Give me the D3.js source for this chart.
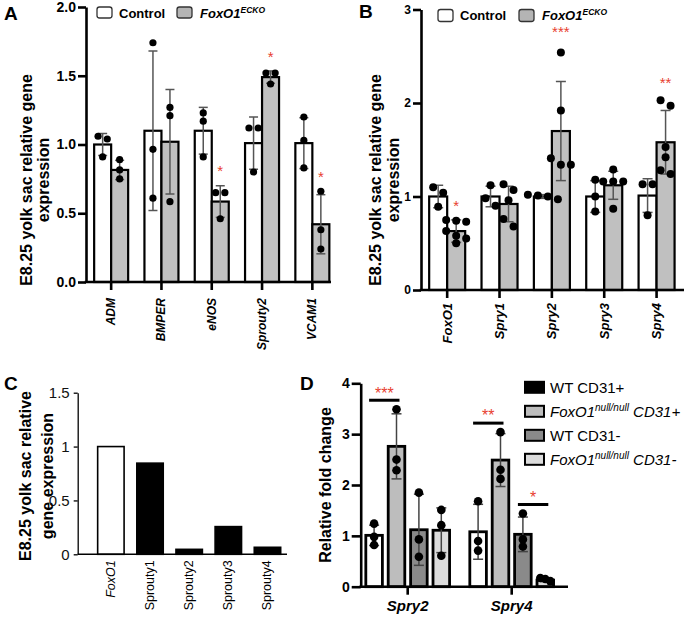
<!DOCTYPE html>
<html><head><meta charset="utf-8">
<script src="https://cdn.jsdelivr.net/npm/d3@7"></script>
<style>body{margin:0;background:#fff} svg{display:block;font-family:"Liberation Sans",Arial,sans-serif}</style>
</head><body><svg id="c" width="686" height="618"></svg>
<script>
// ---------- Panel A data ----------
const catsA = ["ADM","BMPER","eNOS","Sprouty2","VCAM1"];
const ctrlA = [1.00,1.10,1.10,1.01,1.01];
const ctrlSdA = [0.08,0.58,0.17,0.19,0.185];
const ctrlDotsA = [[1.04,1.06,0.91],[1.74,0.965,0.61],[1.23,1.17,0.91],[1.12,1.12,0.80],[1.20,1.03,0.83]];
const koA = [0.815,1.02,0.585,1.49,0.42];
const koSdA = [0.07,0.38,0.115,0.045,0.215];
const koDotsA = [[0.89,0.815,0.75],[1.27,1.21,0.584],[0.65,0.65,0.46],[1.52,1.52,1.44],[0.66,0.38,0.24]];
const starsA = ["","","*","*","*"];
const ticksA = [0,0.5,1,1.5,2];

// ---------- Panel B data ----------
const catsB = ["FoxO1","Spry1","Spry2","Spry3","Spry4"];
const ctrlB = [1.0,1.0,1.0,1.0,1.01];
const ctrlSdB = [0.12,0.11,0.02,0.17,0.18];
const ctrlDotsB = [[1.10,1.04,0.89],[1.12,0.98,0.90],[0.97,1.00,1.01,1.02],[1.18,1.00,0.84],[1.13,1.13,0.80]];
const koB = [0.63,0.92,1.70,1.12,1.58];
const koSdB = [0.12,0.19,0.53,0.15,0.34];
const koDotsB = [[0.75,0.74,0.73,0.63,0.58,0.55,0.50],[1.13,1.07,0.96,0.76,0.68],[2.54,1.92,1.41,1.34,1.34],[1.29,1.16,1.16,1.16,0.87],[2.03,1.97,1.53,1.42,1.28,1.24]];
const starsB = ["*","","***","","**"];
const ticksB = [0,1,2,3];

// ---------- Panel C data ----------
const catsC = ["FoxO1","Sprouty1","Sprouty2","Sprouty3","Sprouty4"];
const valuesC = [1.0,0.846,0.046,0.257,0.065];
const ticksC = [0,0.5,1,1.5];

// ---------- Panel D data ----------
const groupsD = ["Spry2","Spry4"];
const seriesD = ["WT CD31+","FoxO1 null/null CD31+","WT CD31-","FoxO1 null/null CD31-"];
const meansD = [[1.01,1.08],[2.76,2.49],[1.12,1.03],[1.11,0.13]];
const sdD = [[0.20,0.54],[0.64,0.52],[0.70,0.34],[0.44,0.03]];
const dotsD = [
  [[1.24,0.98,0.82],[1.68,0.90,0.71]],
  [[3.49,2.50,2.29],[3.04,2.30,2.12]],
  [[1.85,0.93,0.59],[1.44,0.93,0.79]],
  [[1.51,1.21,0.61],[0.17,0.15,0.11]]
];
const sigD = [{g:0,a:0,b:1,label:"***"},{g:1,a:0,b:1,label:"**"},{g:1,a:2,b:3,label:"*"}];
const ticksD = [0,1,2,3,4];

// ---------- helpers ----------
const svg = d3.select("#c");
svg.append("rect").attr("width",686).attr("height",618).attr("fill","#fff");
const RED = "#e8402f";

function rowOffsets(vals, y, thr, sp){
  // group dots lying on nearly the same height into rows, centre each row
  const idx = vals.map((v,i)=>i).sort((a,b)=>vals[b]-vals[a]);
  const off = new Array(vals.length).fill(0);
  let row = [];
  const flush = () => { const k=row.length; row.forEach((id,j)=>off[id]=(j-(k-1)/2)*sp); row=[]; };
  idx.forEach(id=>{
    if(row.length && Math.abs(y(vals[row[0]])-y(vals[id]))>=thr) flush();
    row.push(id);
  });
  flush();
  return off;
}

function errBar(g, cx, y, m, sd, cap, color, w){
  const t=y(m+sd), b=y(Math.max(0,m-sd));
  g.append("line").attr("x1",cx).attr("x2",cx).attr("y1",t).attr("y2",b).attr("stroke",color).attr("stroke-width",w);
  g.append("line").attr("x1",cx-cap/2).attr("x2",cx+cap/2).attr("y1",t).attr("y2",t).attr("stroke",color).attr("stroke-width",w);
  g.append("line").attr("x1",cx-cap/2).attr("x2",cx+cap/2).attr("y1",b).attr("y2",b).attr("stroke",color).attr("stroke-width",w);
}

function dots(g, cx, y, vals, r, thr, sp){
  const off = rowOffsets(vals, y, thr===undefined?2*r:thr, sp===undefined?2*r+2:sp);
  vals.forEach((v,i)=>g.append("circle").attr("cx",cx+off[i]).attr("cy",y(v)).attr("r",r).attr("fill","#000"));
}

function starText(g, x, yc, label, fs){
  g.append("text").attr("x",x).attr("y",yc+0.58*fs).attr("text-anchor","middle")
    .attr("font-size",fs).attr("fill",RED).text(label);
}

function yTitle(g, x, yc, text, fs){
  g.append("text").attr("transform",`translate(${x},${yc}) rotate(-90)`).attr("text-anchor","middle")
    .attr("dominant-baseline","central").attr("font-size",fs).attr("font-weight","bold").text(text);
}

function letter(x,y,t){
  svg.append("text").attr("x",x).attr("y",y).attr("font-size",19).attr("font-weight","bold").text(t);
}

function pairedPanel(o){
  const g = svg.append("g");
  const x = d3.scaleBand().domain(o.cats).range([o.left, o.left+o.step*o.cats.length]);
  const y = d3.scaleLinear().domain([0,o.yMax]).range([o.y0,o.yTop]);
  o.cats.forEach((c,i)=>{
    const cx = x(c)+x.bandwidth()/2;
    g.append("rect").attr("x",cx-o.barW).attr("y",y(o.ctrl[i])).attr("width",o.barW).attr("height",o.y0-y(o.ctrl[i]))
      .attr("fill","#fff").attr("stroke","#000").attr("stroke-width",2.2);
    g.append("rect").attr("x",cx).attr("y",y(o.ko[i])).attr("width",o.barW).attr("height",o.y0-y(o.ko[i]))
      .attr("fill","#c0c0c0").attr("stroke","#000").attr("stroke-width",2.2);
    errBar(g, cx-o.barW/2, y, o.ctrl[i], o.ctrlSd[i], o.cap, "#555", 1.5);
    errBar(g, cx+o.barW/2, y, o.ko[i], o.koSd[i], o.cap, "#555", 1.5);
    dots(g, cx-o.barW/2, y, o.ctrlDots[i], o.r);
    dots(g, cx+o.barW/2, y, o.koDots[i], o.r);
    if(o.stars[i]){
      const top = Math.max(o.ko[i]+o.koSd[i], d3.max(o.koDots[i]));
      starText(g, cx+o.barW/2, y(top)-15-3*o.stars[i].length, o.stars[i], 15);
    }
    // x label
    g.append("text").attr("transform",`translate(${cx},${o.y0+o.labTop}) rotate(-90)`)
      .attr("text-anchor","end").attr("dominant-baseline","central")
      .attr("font-size",o.labFs).attr("font-weight","bold").attr("font-style","italic").text(c);
  });
  // axes
  const ay = g.append("g").attr("transform",`translate(${o.left},0)`)
    .call(d3.axisLeft(y).tickValues(o.ticks).tickFormat(o.fmt).tickSize(8).tickPadding(2).tickSizeOuter(0));
  ay.select(".domain").attr("stroke-width",2.6);
  ay.selectAll(".tick line").attr("stroke-width",2.6);
  ay.selectAll(".tick text").attr("font-size",o.tickFs).attr("font-weight","bold").attr("fill","#000").attr("font-family",null);
  const ax = g.append("g").attr("transform",`translate(0,${o.y0})`)
    .call(d3.axisBottom(x).tickSize(8).tickFormat(""));
  ax.select(".domain").remove();
  ax.selectAll(".tick line").attr("stroke-width",2.6);
  g.append("line").attr("x1",o.left-1.3).attr("x2",o.axEnd).attr("y1",o.y0).attr("y2",o.y0).attr("stroke","#000").attr("stroke-width",2.6);
  // title
  yTitle(g, o.titleX1, o.titleY, "E8.25 yolk sac relative gene", 16);
  yTitle(g, o.titleX2, o.titleY, "expression", 16);
  // legend
  const L=o.leg;
  g.append("rect").attr("x",L.x1).attr("y",L.y).attr("width",15).attr("height",L.h).attr("rx",2.5)
    .attr("fill","#fff").attr("stroke","#333").attr("stroke-width",1.3);
  g.append("text").attr("x",L.x1+22).attr("y",L.base).attr("font-size",13).attr("font-weight","bold").text("Control");
  g.append("rect").attr("x",L.x2).attr("y",L.y).attr("width",15).attr("height",L.h).attr("rx",2.5)
    .attr("fill","#b4b4b4").attr("stroke","#333").attr("stroke-width",1.3);
  const t = g.append("text").attr("x",L.x2+23).attr("y",L.base).attr("font-size",13).attr("font-weight","bold").attr("font-style","italic");
  t.append("tspan").text("FoxO1");
  t.append("tspan").attr("dy",-5).attr("font-size",8.5).text("ECKO");
}

// ---------- Panel A ----------
letter(4,20,"A");
pairedPanel({cats:catsA, ctrl:ctrlA, ctrlSd:ctrlSdA, ctrlDots:ctrlDotsA, ko:koA, koSd:koSdA, koDots:koDotsA, stars:starsA,
  left:86, step:50.3, y0:282, yTop:7, yMax:2, ticks:ticksA, fmt:d3.format(".1f"), tickFs:14,
  barW:17, r:3.6, cap:9, axEnd:331, labTop:16, labFs:12,
  titleX1:26, titleX2:43, titleY:180, leg:{x1:97,x2:177,y:7,h:11,base:17.5}});

// ---------- Panel B ----------
letter(359,18,"B");
pairedPanel({cats:catsB, ctrl:ctrlB, ctrlSd:ctrlSdB, ctrlDots:ctrlDotsB, ko:koB, koSd:koSdB, koDots:koDotsB, stars:starsB,
  left:421, step:52.35, y0:290, yTop:9.5, yMax:3, ticks:ticksB, fmt:d3.format("d"), tickFs:12,
  barW:18, r:4, cap:10, axEnd:684, labTop:13, labFs:13,
  titleX1:375, titleX2:393, titleY:180, leg:{x1:438,x2:519,y:9.5,h:12,base:19.5}});

// ---------- Panel C ----------
letter(4,390,"C");
(function(){
  const g = svg.append("g");
  const left=77.7, y0=554.3;
  const x = d3.scaleBand().domain(catsC).range([91.3, 91.3+5*39.15]).paddingInner(0.325).paddingOuter(0.1625);
  const y = d3.scaleLinear().domain([0,1.5]).range([y0,392.7]);
  catsC.forEach((c,i)=>{
    g.append("rect").attr("x",x(c)).attr("y",y(valuesC[i])).attr("width",x.bandwidth()).attr("height",y0-y(valuesC[i]))
      .attr("fill", i===0 ? "#fff" : "#000").attr("stroke","#000").attr("stroke-width",1.6);
    g.append("text").attr("transform",`translate(${x(c)+x.bandwidth()/2},${y0+6}) rotate(-90)`)
      .attr("text-anchor","end").attr("dominant-baseline","central")
      .attr("font-size",12.5).attr("font-style", i===0 ? "italic" : "normal").text(c);
  });
  const ay = g.append("g").attr("transform",`translate(${left},0)`)
    .call(d3.axisLeft(y).tickValues(ticksC).tickFormat(d3.format("")).tickSize(4).tickPadding(4).tickSizeOuter(0));
  ay.select(".domain").attr("stroke-width",1.3);
  ay.selectAll(".tick line").attr("stroke-width",1.3);
  ay.selectAll(".tick text").attr("font-size",15).attr("fill","#111").attr("font-family",null);
  g.append("line").attr("x1",left).attr("x2",287).attr("y1",y0).attr("y2",y0).attr("stroke","#000").attr("stroke-width",1.5);
  yTitle(g, 25, 476, "E8.25 yolk sac relative", 16);
  yTitle(g, 47, 476, "gene expression", 16);
})();

// ---------- Panel D ----------
letter(300,390,"D");
(function(){
  const g = svg.append("g");
  const left=360.7, y0=586.7;
  const x0 = d3.scaleBand().domain(groupsD).range([355.7, 563.7]);
  const xs = d3.scaleBand().domain(seriesD).range([-44.8,44.8]).paddingInner(0.26).paddingOuter(0.13);
  const y = d3.scaleLinear().domain([0,4]).range([y0,383.3]);
  const barFill = ["#fff","#bdbdbd","#8a8a8a","#dcdcdc"];
  const legFill = ["#000","#bdbdbd","#8a8a8a","#dcdcdc"];
  const cxOf = (gi,si) => x0(groupsD[gi]) + x0.bandwidth()/2 + xs(seriesD[si]) + xs.bandwidth()/2;
  groupsD.forEach((gn,gi)=>{
    seriesD.forEach((sn,si)=>{
      const m = meansD[si][gi];
      const bx = x0(gn)+x0.bandwidth()/2+xs(sn);
      g.append("rect").attr("x",bx).attr("y",y(m)).attr("width",xs.bandwidth()).attr("height",y0-y(m))
        .attr("fill",barFill[si]).attr("stroke","#000").attr("stroke-width",2.8);
    });
    seriesD.forEach((sn,si)=>{
      errBar(g, cxOf(gi,si), y, meansD[si][gi], sdD[si][gi], 10, "#444", 1.5);
      dots(g, cxOf(gi,si), y, dotsD[si][gi], 4.3, 4, 5);
    });
  });
  sigD.forEach(s=>{
    const top = d3.max([s.a,s.b].flatMap(si=>[meansD[si][s.g]+sdD[si][s.g], ...dotsD[si][s.g]]));
    const ly = y(top)-9;
    const xa = cxOf(s.g,s.a)-5, xb = cxOf(s.g,s.b)+3;
    g.append("line").attr("x1",xa).attr("x2",xb).attr("y1",ly).attr("y2",ly).attr("stroke","#000").attr("stroke-width",3);
    starText(g, (xa+xb)/2, ly-11, s.label, 16);
  });
  const ay = g.append("g").attr("transform",`translate(${left},0)`)
    .call(d3.axisLeft(y).tickValues(ticksD).tickFormat(d3.format("d")).tickSize(9).tickPadding(2).tickSizeOuter(0));
  ay.select(".domain").attr("stroke-width",2.6);
  ay.selectAll(".tick line").attr("stroke-width",2.6);
  ay.selectAll(".tick text").attr("font-size",14).attr("font-weight","bold").attr("fill","#000").attr("font-family",null);
  const ax = g.append("g").attr("transform",`translate(0,${y0})`).call(d3.axisBottom(x0).tickSize(8).tickPadding(6));
  ax.select(".domain").remove();
  ax.selectAll(".tick line").attr("stroke-width",2.6);
  ax.selectAll(".tick text").attr("font-size",15).attr("font-weight","bold").attr("font-style","italic").attr("fill","#000").attr("font-family",null);
  g.append("line").attr("x1",left-1.3).attr("x2",568).attr("y1",y0).attr("y2",y0).attr("stroke","#000").attr("stroke-width",2.6);
  yTitle(g, 325, 485, "Relative fold change", 16);
  // legend
  seriesD.forEach((sn,si)=>{
    const cy = 387.3 + si*24;
    g.append("rect").attr("x",525).attr("y",cy-5.5).attr("width",19).attr("height",11)
      .attr("fill",legFill[si]).attr("stroke","#000").attr("stroke-width",2);
    const t = g.append("text").attr("x",550).attr("y",cy+5.2).attr("font-size",15);
    const parts = sn.split(" ");
    if(parts[1]==="null/null"){
      t.attr("font-style","italic");
      t.append("tspan").text(parts[0]);
      t.append("tspan").attr("dy",-6).attr("font-size",10).text(parts[1]);
      t.append("tspan").attr("dy",6).text(" "+parts.slice(2).join(" "));
    } else t.text(sn);
  });
})();
</script></body></html>
